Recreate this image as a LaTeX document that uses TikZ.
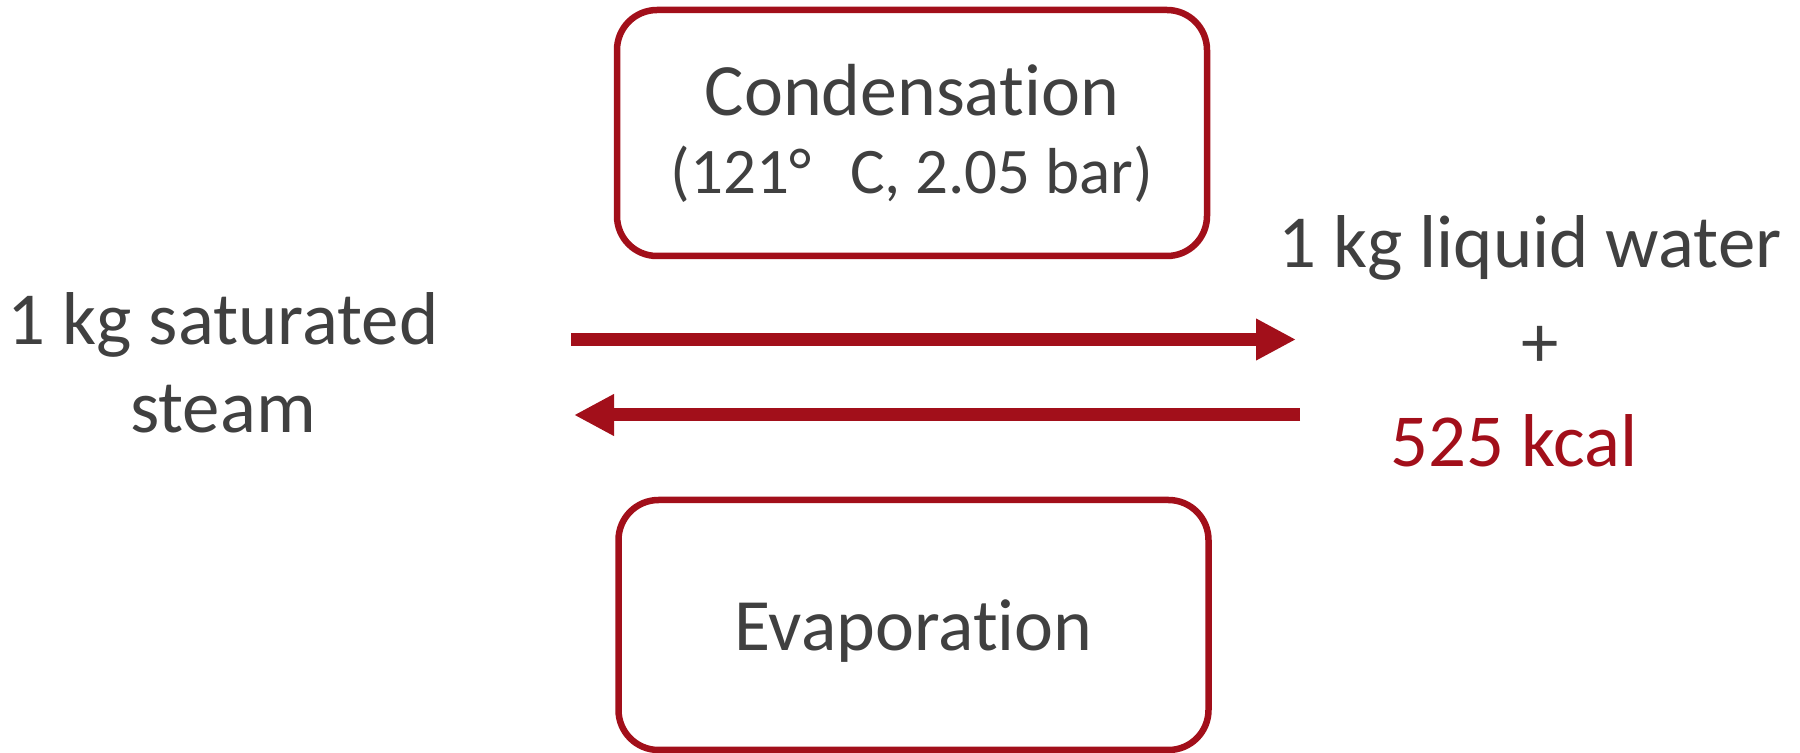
\documentclass[tikz,border=0pt]{standalone}
\usepackage{fontspec}
\setmainfont{Carlito}[Ligatures=NoCommon]
\usetikzlibrary{arrows.meta}
\usetikzlibrary{positioning}
\definecolor{boxred}{HTML}{A20F1A}
\definecolor{txtgray}{HTML}{404040}

\begin{document}
\begin{tikzpicture}[->,>={Triangle[length=4mm,width=3.9mm]},line width=1.3mm,
	phase node/.style={rectangle,rounded corners=4mm,draw=boxred,line width=0.65mm,minimum width=5.9cm,minimum height=2.46cm,inner sep=0pt,align=center,text=txtgray,font=\fontsize{21}{22.2}\selectfont},
	side node/.style={align=center,text=txtgray,font=\fontsize{21.3}{25}\selectfont}]
		
		\useasboundingbox (0,0) rectangle (18,7.53);
		
		\node[phase node] at (9.12,6.20) (1) {Condensation\\{\fontsize{18.5}{22.2}\selectfont(121\textdegree\hspace{0.6em}C, 2.05 bar)}};
		\node[phase node, minimum height=2.5cm, text depth=0pt] at (9.135,1.28) (2) {Evaporation};
		\node[side node] at (2.23,3.90) (3) {1 kg saturated\\steam};
		\node[side node, font=\fontsize{21.3}{28.3}\selectfont] at (15.30,4.115) (4) {1 kg liquid water\\\hspace*{0.2cm}+\\\textcolor{boxred}{525 kcal}\hspace*{0.32cm}};
		
		\coordinate (a) at (5.71,4.135);
		\coordinate (b) at (12.96,4.135);
		\coordinate (c) at (13.00,3.38);
		\coordinate (d) at (5.74,3.38);
		
		\path
		(a) edge[boxred] (b)
		(c) edge[boxred] (d)
		;
		
		\end{tikzpicture}
\end{document}
